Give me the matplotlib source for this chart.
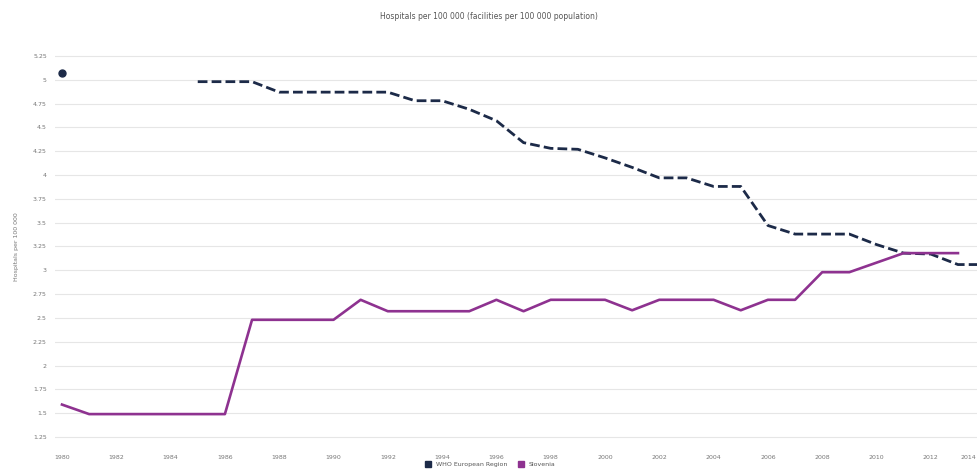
import numpy as np
import matplotlib
matplotlib.use('Agg')
import matplotlib.pyplot as plt
from matplotlib.lines import Line2D

# ── Data ─────────────────────────────────────────────────────────────────────
years = list(range(1980, 2015))
nan = np.nan
who_europe = [5.07, nan, nan, nan, nan, 4.98, 4.98, 4.98, 4.87, 4.87,
              4.87, 4.87, 4.87, 4.78, 4.78, 4.69, 4.57, 4.34, 4.28, 4.27,
              4.18, 4.08, 3.97, 3.97, 3.88, 3.88, 3.47, 3.38, 3.38, 3.38,
              3.27, 3.18, 3.17, 3.06, 3.06]
slovenia = [1.59, 1.49, 1.49, 1.49, 1.49, 1.49, 1.49, 2.48, 2.48, 2.48,
            2.48, 2.69, 2.57, 2.57, 2.57, 2.57, 2.69, 2.57, 2.69, 2.69,
            2.69, 2.58, 2.69, 2.69, 2.69, 2.58, 2.69, 2.69, 2.98, 2.98,
            3.08, 3.18, 3.18, 3.18, nan]
series_names = ['WHO European Region', 'Slovenia']
y_ticks = np.arange(1.25, 5.26, 0.25)

NAVY = '#1c2a48'
PURPLE = '#8e3290'
TICK_GREY = '#777777'

# ── Plot ─────────────────────────────────────────────────────────────────────
fig = plt.figure(figsize=(9.77, 4.69), dpi=100)
ax = fig.add_axes([0.0565, 0.048, 0.9657, 0.853])

x = np.arange(len(years))
who = np.array(who_europe)
slo = np.array(slovenia)

ax.plot(x, who, color=NAVY, lw=2.0, dashes=(3.5, 1.5), solid_capstyle='butt')
ax.plot(x, slo, color=PURPLE, lw=1.9)

# isolated points (no neighbours) only show up as a marker
for arr, col in [(who, NAVY), (slo, PURPLE)]:
    left = np.r_[np.nan, arr[:-1]]
    right = np.r_[arr[1:], np.nan]
    iso = ~np.isnan(arr) & np.isnan(left) & np.isnan(right)
    ax.plot(x[iso], arr[iso], 'o', color=col, ms=5)

ax.set_xlim(-0.25, 34.5)
ax.set_ylim(1.15, 5.35)
ax.set_yticks(y_ticks)
ax.set_yticklabels([f'{v:g}' for v in y_ticks])
# every second year; the last one sits at the figure edge, placed separately
ax.set_xticks(x[:-1:2])
ax.set_xticklabels([str(y) for y in years[:-1:2]])
ax.annotate(str(years[-1]), xy=(0.999, 0), xycoords=('figure fraction', 'axes fraction'),
            xytext=(0, -6), textcoords='offset points', ha='right', va='top',
            fontsize=4.5, color=TICK_GREY)
ax.tick_params(axis='both', length=0, labelsize=4.5, labelcolor=TICK_GREY, pad=6)
ax.grid(axis='y', color='#e6e6e6', lw=0.8)
ax.set_axisbelow(True)
for s in ax.spines.values():
    s.set_visible(False)
ax.set_ylabel('Hospitals per 100 000', fontsize=4.5, color=TICK_GREY, labelpad=10)

fig.text(0.5, 0.965, 'Hospitals per 100 000 (facilities per 100 000 population)',
         ha='center', va='center', fontsize=5.5, color='#555555')

handles = [Line2D([], [], marker='s', ls='none', color=c, ms=4) for c in (NAVY, PURPLE)]
fig.legend(handles, series_names, loc='lower center', bbox_to_anchor=(0.5, -0.008),
           ncol=2, frameon=False, fontsize=4.5, handletextpad=0.3, columnspacing=1.2,
           labelcolor='#555555')

fig.savefig('out.png', dpi=100)
